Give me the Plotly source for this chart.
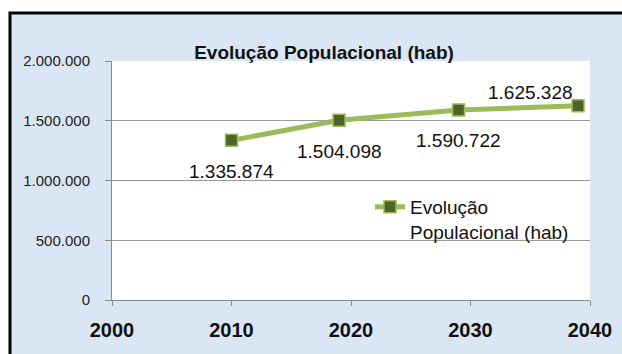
import plotly.graph_objects as go

# ---- data ----
years = [2010, 2019, 2029, 2039]
population = [1335874, 1504098, 1590722, 1625328]
series_name = "Evolução<br>Populacional (hab)"
title_text = "Evolução Populacional (hab)"
x_ticks = [2000, 2010, 2020, 2030, 2040]
y_ticks = [0, 500000, 1000000, 1500000, 2000000]

# label offsets (style, px)
label_dx = [0, 0, 0, -48]
label_dy = [-31, -31, -31, 13]

LINE = "#9bbb59"
MARK = "#4f6228"
BG = "#dae6f4"
FONT = "Liberation Sans, Arial, sans-serif"

fig = go.Figure()
fig.add_trace(go.Scatter(
    x=years, y=population, name=series_name,
    mode="lines+markers",
    line=dict(color=LINE, width=5),
    marker=dict(symbol="square", size=12, color=MARK,
                line=dict(color=LINE, width=1.5)),
    showlegend=True,
))

annotations = []
for xv, yv, dx, dy in zip(years, population, label_dx, label_dy):
    annotations.append(dict(
        x=xv, y=yv, xref="x", yref="y",
        text=f"{yv:,}".replace(",", "."),
        showarrow=False, xshift=dx, yshift=dy,
        font=dict(family=FONT, size=19, color="#111111"),
    ))

W, H = 622, 354
L, R, T, B = 112, 32, 61, 54
pw, ph = W - L - R, H - T - B


def px_x(p):
    return (p - L) / pw


def px_y(p):
    return (H - B - p) / ph


shapes = [
    dict(type="rect", xref="paper", yref="paper",
         x0=px_x(10), x1=px_x(640), y0=px_y(370), y1=px_y(13),
         fillcolor=BG, line=dict(color="black", width=3), layer="below"),
    dict(type="rect", xref="paper", yref="paper",
         x0=0, x1=1, y0=0, y1=1,
         fillcolor="white", line=dict(width=0), layer="below"),
]

fig.update_layout(
    width=W, height=H,
    margin=dict(l=L, r=R, t=T, b=B, pad=0, autoexpand=False),
    paper_bgcolor="white",
    plot_bgcolor="white",
    separators=",.",
    title=dict(text=f"<b>{title_text}</b>", x=324 / W, xanchor="center",
               y=1 - 52 / H, yanchor="middle",
               font=dict(family=FONT, size=19, color="#111111")),
    shapes=shapes,
    annotations=annotations,
    legend=dict(x=px_x(370), y=px_y(188), xanchor="left", yanchor="top",
                bgcolor="rgba(0,0,0,0)", valign="top",
                font=dict(family=FONT, size=19, color="#111111")),
    xaxis=dict(range=[2000, 2040], tickvals=x_ticks, automargin=False,
               showgrid=False, zeroline=False,
               showline=True, linecolor="#8a8a8a", linewidth=1,
               ticks="outside", ticklen=5, tickcolor="#8a8a8a",
               ticklabelstandoff=7,
               tickfont=dict(family=FONT, size=20, color="#111111", weight="bold")),
    yaxis=dict(range=[0, 2000000], tickvals=y_ticks, tickformat=",d",
               automargin=False,
               showgrid=True, gridcolor="#9a9a9a", gridwidth=1,
               zeroline=False,
               showline=True, linecolor="#8a8a8a", linewidth=1,
               ticks="outside", ticklen=6, tickcolor="#8a8a8a",
               ticklabelstandoff=12,
               tickfont=dict(family=FONT, size=15, color="#222222")),
)

fig.write_html("out.html")
